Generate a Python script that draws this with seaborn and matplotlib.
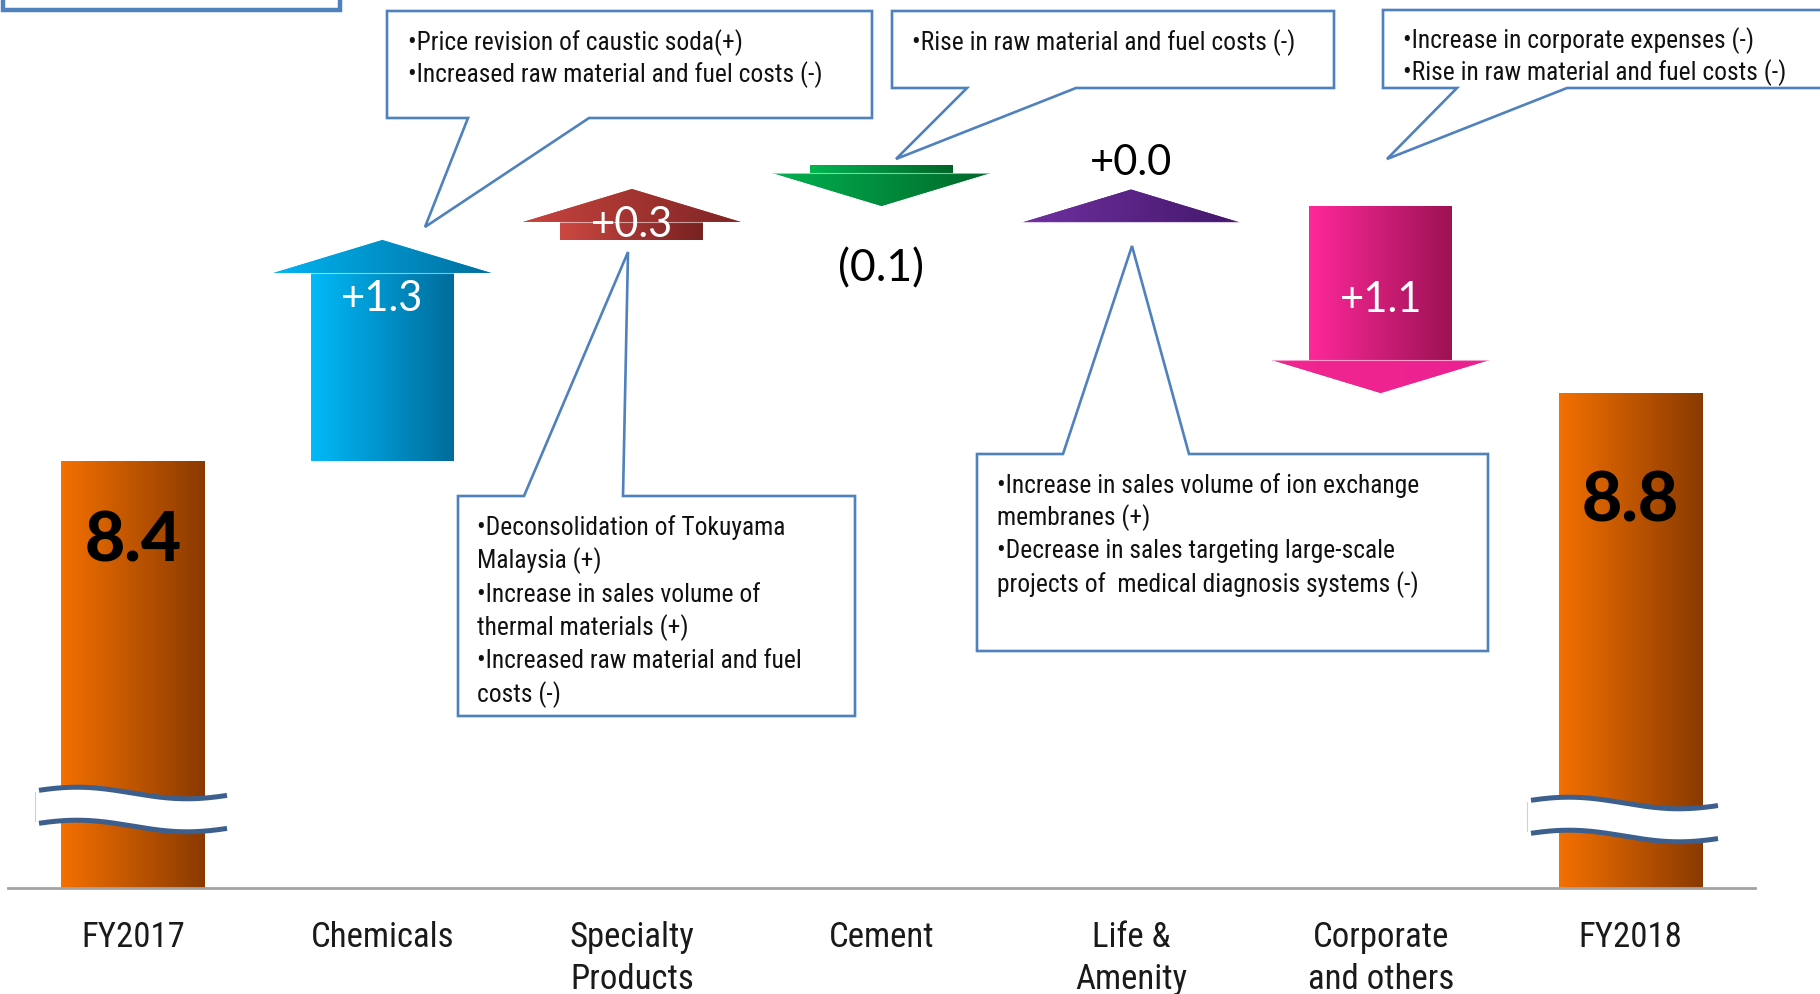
import numpy as np
import pandas as pd
import matplotlib
matplotlib.use("Agg")
import matplotlib.pyplot as plt
from matplotlib import font_manager
from matplotlib.patches import Polygon
from matplotlib.colors import to_rgb
import seaborn as sns

# ---------------------------------------------------------------- data
categories = ["FY2017", "Chemicals", "Specialty\nProducts", "Cement",
              "Life &\nAmenity", "Corporate\nand others", "FY2018"]
total_names = ["FY2017", "FY2018"]
total_values = [8.4, 8.8]
total_texts = ["8.4", "8.8"]
step_names = ["Chemicals", "Specialty\nProducts", "Cement",
              "Life &\nAmenity", "Corporate\nand others"]
step_values = [1.3, 0.3, -0.1, 0.0, -1.1]
step_texts = ["+1.3", "+0.3", "(0.1)", "+0.0", "+1.1"]

notes_chemicals = ["•Price revision of caustic soda(+)",
                   "•Increased raw material and fuel costs (-)"]
notes_specialty = ["•Deconsolidation of Tokuyama", "Malaysia (+)",
                   "•Increase in sales volume of", "thermal materials (+)",
                   "•Increased raw material and fuel", "costs (-)"]
notes_cement = ["•Rise in raw material and fuel costs (-)"]
notes_life = ["•Increase in sales volume of ion exchange", "membranes (+)",
              "•Decrease in sales targeting large-scale",
              "projects of  medical diagnosis systems (-)"]
notes_corporate = ["•Increase in corporate expenses (-)",
                   "•Rise in raw material and fuel costs (-)"]

# ---------------------------------------------------------------- style
W, H, DPI = 1820, 995, 100
PX_PER_UNIT = 170.0          # vertical scale of the broken value axis
TOP_VALUE = 1890 / PX_PER_UNIT
AXIS_BOTTOM_PX = 889
BAR_W, HEAD_W = 0.573, 0.873
HEAD_PX, MIN_SHAFT_PX = 33, 8

total_grad = ("#F47000", "#8A3A00")
shaft_grads = [("#00BAF8", "#006B9B"), ("#CD4842", "#772121"),
               ("#00B651", "#006328"), ("#7030A0", "#43186A"),
               ("#FF289A", "#9C1252")]
head_grads = [("#00B4F2", "#006F9E"), ("#C8443E", "#7E2424"),
              ("#00B24F", "#00672A"), ("#7030A0", "#43186A"),
              ("#F2268F", "#EA2192")]
step_text_colors = ["white", "white", "black", "black", "white"]
step_text_sizes = [30, 30, 32, 30, 30]
step_anchor = ["base", "base", "tip", "tip", "tail"]
step_offsets = [-37, -14, -74, 15, -105]
total_offsets = [-100, -128]
CALLOUT_BLUE = "#4F81BD"
WAVE_BLUE = "#3C5F8E"


def pick_narrow():
    names = {f.name for f in font_manager.fontManager.ttflist}
    for fam in ["Liberation Sans Narrow", "Arial Narrow", "Roboto Condensed",
                "Open Sans Condensed", "DejaVu Sans Condensed"]:
        if fam in names:
            return fam, "normal"
    for f in font_manager.fontManager.ttflist:
        if f.name == "DejaVu Sans" and "ondensed" in f.fname:
            return "DejaVu Sans", "condensed"
    return "Liberation Sans", "normal"


def pick_heavy():
    for fam in ["Lato", "Open Sans", "Noto Sans", "Roboto"]:
        weights = [f.weight for f in font_manager.fontManager.ttflist if f.name == fam]
        weights = [w if isinstance(w, int) else 400 for w in weights]
        if weights and max(weights) >= 700:
            return fam, max(w for w in weights if w <= 900)
    return "DejaVu Sans", "bold"


sns.set_style("white")
NARROW, NARROW_STRETCH = pick_narrow()
HEAVY, HEAVY_WEIGHT = pick_heavy()
plt.rcParams["font.family"] = [NARROW, "DejaVu Sans"]
NUM_FONT = ["Lato", "DejaVu Sans"]

fig = plt.figure(figsize=(W / DPI, H / DPI), dpi=DPI)
ax = fig.add_axes([8 / W, (H - AXIS_BOTTOM_PX) / H, 1747 / W, AXIS_BOTTOM_PX / H])
y_lo = TOP_VALUE - AXIS_BOTTOM_PX / PX_PER_UNIT
y_hi = TOP_VALUE

# ---------------------------------------------------------------- totals
totals = pd.DataFrame({"item": total_names, "value": total_values})
sns.barplot(data=totals, x="item", y="value", order=categories, width=BAR_W,
            color=total_grad[0], saturation=1, ax=ax, zorder=1)


def gradient(patch, colors, extent, zorder):
    c0, c1 = np.array(to_rgb(colors[0])), np.array(to_rgb(colors[1]))
    t = np.linspace(0, 1, 256)[:, None]
    img = ((1 - t) * c0 + t * c1)[None, :, :]
    im = ax.imshow(img, extent=extent, aspect="auto", origin="lower",
                   interpolation="bilinear", zorder=zorder)
    im.set_clip_path(patch)


for bar in ax.patches:
    if not np.isfinite(bar.get_height()) or bar.get_height() == 0:
        continue
    x0 = bar.get_x()
    gradient(bar, total_grad,
             (x0, x0 + bar.get_width(), max(bar.get_y(), y_lo), bar.get_y() + bar.get_height()), 2)

for name, val, txt, off in zip(total_names, total_values, total_texts, total_offsets):
    ax.annotate(txt, xy=(categories.index(name), val), xytext=(0, off),
                textcoords="offset pixels", ha="center", va="baseline",
                fontsize=50, fontweight=HEAVY_WEIGHT, family=[HEAVY, "DejaVu Sans"],
                color="black", zorder=6)

# ---------------------------------------------------------------- step arrows
head = HEAD_PX / PX_PER_UNIT
min_len = (HEAD_PX + MIN_SHAFT_PX) / PX_PER_UNIT
level = total_values[0]
for k, (name, dv, txt) in enumerate(zip(step_names, step_values, step_texts)):
    xc = categories.index(name)
    start, end = level, level + dv
    level = end
    if dv == 0:
        tail = base = start - head / 2
        tip = start + head / 2
    else:
        sgn = 1 if dv > 0 else -1
        tip = end
        base = end - sgn * head
        tail = start if abs(dv) >= min_len else end - sgn * min_len
    if tail != base:
        lo, hi = min(tail, base), max(tail, base)
        shaft = Polygon([(xc - BAR_W / 2, lo), (xc + BAR_W / 2, lo),
                         (xc + BAR_W / 2, hi), (xc - BAR_W / 2, hi)],
                        closed=True, facecolor=shaft_grads[k][0], lw=0, zorder=2)
        ax.add_patch(shaft)
        gradient(shaft, shaft_grads[k], (xc - BAR_W / 2, xc + BAR_W / 2, lo, hi), 3)
    tri = Polygon([(xc - HEAD_W / 2, base), (xc + HEAD_W / 2, base), (xc, tip)],
                  closed=True, facecolor=head_grads[k][0], lw=0, zorder=2)
    ax.add_patch(tri)
    gradient(tri, head_grads[k],
             (xc - HEAD_W / 2, xc + HEAD_W / 2, min(base, tip), max(base, tip)), 3)
    # faint highlight along the base of the head
    ax.plot([xc - HEAD_W / 2, xc + HEAD_W / 2], [base, base], color="white",
            alpha=0.55, lw=0.8, zorder=4, solid_capstyle="butt")
    anchor = {"base": base, "tip": tip, "tail": tail}[step_anchor[k]]
    ax.annotate(txt, xy=(xc, anchor), xytext=(0, step_offsets[k]),
                textcoords="offset pixels", ha="center", va="baseline",
                fontsize=step_text_sizes[k], family=NUM_FONT,
                color=step_text_colors[k], zorder=6)

# ---------------------------------------------------------------- axes
ax.set_xlim(-0.5, 6.5)
ax.set_ylim(y_lo, y_hi)
ax.set_xticks(range(len(categories)))
ax.set_xticklabels(categories, fontsize=25, linespacing=1.34,
                   fontstretch=NARROW_STRETCH, color="#1A1A1A")
ax.tick_params(axis="x", length=0, pad=23)
ax.set_yticks([])
ax.set_xlabel("")
ax.set_ylabel("")
for side in ["left", "right", "top"]:
    ax.spines[side].set_visible(False)
ax.spines["bottom"].set_color("#A3A3A3")
ax.spines["bottom"].set_linewidth(2)
ax.spines["bottom"].set_zorder(4)

# ---------------------------------------------------------------- overlay (pixels)
ov = fig.add_axes([0, 0, 1, 1], zorder=5)
ov.set_xlim(0, W)
ov.set_ylim(H, 0)
ov.axis("off")
ov.patch.set_alpha(0)


def callout(box, lines, text_x, baselines, pointer=None, lw=1.9):
    x0, y0, x1, y1 = box
    if pointer is None:
        pts = [(x0, y0), (x1, y0), (x1, y1), (x0, y1)]
    else:
        edge, xa, xb, tx, ty = pointer
        if edge == "bottom":
            pts = [(x0, y0), (x1, y0), (x1, y1), (xb, y1), (tx, ty), (xa, y1), (x0, y1)]
        else:
            pts = [(x0, y0), (xa, y0), (tx, ty), (xb, y0), (x1, y0), (x1, y1), (x0, y1)]
    ov.add_patch(Polygon(pts, closed=True, facecolor="white", edgecolor=CALLOUT_BLUE,
                         lw=lw, joinstyle="miter"))
    for line, yb in zip(lines, baselines):
        ov.text(text_x, yb, line, fontsize=18.4, va="baseline", ha="left",
                fontstretch=NARROW_STRETCH, color="#111111")


callout((3, -60, 340, 11), [], 0, [], lw=3.2)
callout((387, 12, 872, 119), notes_chemicals, 408, [50, 82],
        ("bottom", 468, 589, 425, 228))
callout((892, 12, 1334, 89), notes_cement, 912, [50],
        ("bottom", 967, 1076, 896, 160))
callout((1383, 11, 1840, 89), notes_corporate, 1403, [48, 80],
        ("bottom", 1457, 1567, 1387, 160))
callout((458, 497, 855, 717), notes_specialty, 477,
        [535, 568, 602, 635, 668, 702], ("top", 524, 623, 628, 253))
callout((977, 455, 1488, 652), notes_life, 997,
        [493, 525, 558, 592], ("top", 1063, 1189, 1132, 247))


def axis_break(xa, xb, y_upper, gap, phase_x, amp=5.8, period=220):
    xs = np.linspace(xa, xb, 200)
    wave = -amp * np.cos(2 * np.pi * (xs - phase_x) / period)
    up, dn = y_upper + wave, y_upper + gap + wave
    ov.fill_between(xs, up, dn, color="white", lw=0)
    ov.plot([xa - 4, xa - 4], [up[0] + 2, dn[0] - 2], color="#D0D0D0", lw=0.8)
    ov.plot(xs, up, color=WAVE_BLUE, lw=3.6, solid_capstyle="butt")
    ov.plot(xs, dn, color=WAVE_BLUE, lw=3.6, solid_capstyle="butt")


axis_break(39, 227, 794, 33, 77)
axis_break(1531, 1718, 804, 33, 1569)

fig.savefig("out.png", dpi=DPI)
